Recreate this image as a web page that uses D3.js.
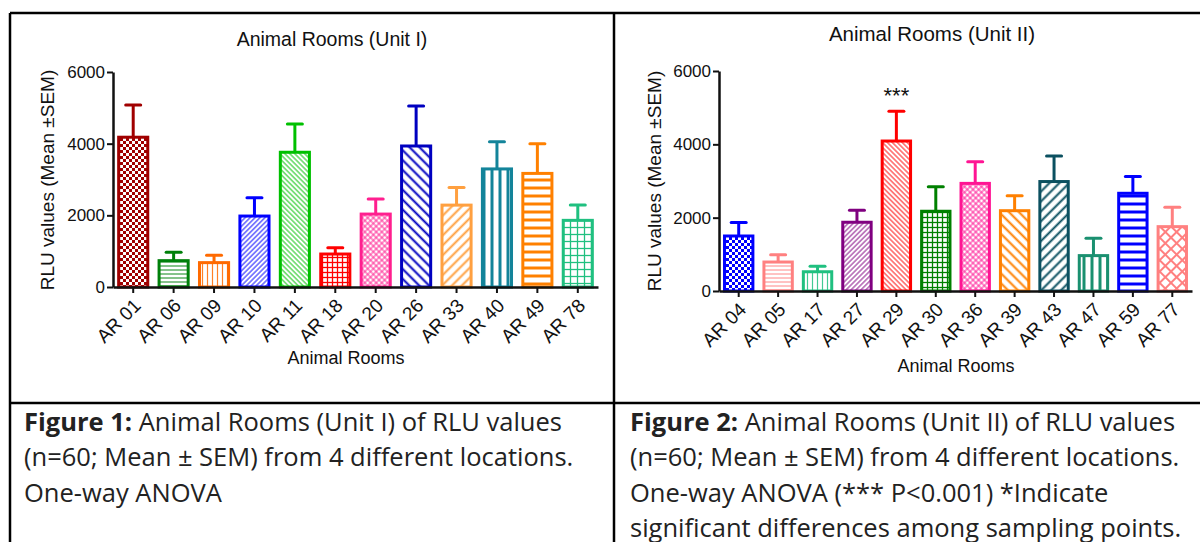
<!DOCTYPE html>
<html>
<head>
    <script src="https://cdnjs.cloudflare.com/ajax/libs/d3/7.8.5/d3.min.js"></script>
    <style>
        body { margin: 0; background: #fff; }
        svg { display: block; }
        .axis-text { font-family: "Liberation Sans", Arial, sans-serif; fill: #111; }
        .caption { font-family: "Open Sans", sans-serif; fill: #222; font-size: 25.5px; }
    </style>
</head>
<body>
<svg id="chart" width="1200" height="542"></svg>
<script>
    // Unit I
    const leftRooms = ["AR 01", "AR 06", "AR 09", "AR 10", "AR 11", "AR 18", "AR 20", "AR 26", "AR 33", "AR 40", "AR 49", "AR 78"];
    const leftMeans = [4180, 735, 680, 1980, 3760, 920, 2035, 3935, 2285, 3295, 3170, 1860];
    const leftSems  = [900, 235, 205, 510, 790, 175, 420, 1115, 495, 760, 830, 430];
    const leftColors = ["#a00000", "#00800a", "#ff6a00", "#0000ff", "#00c000", "#ff0000", "#ff1f8f", "#0000c0", "#ffa040", "#13849a", "#ff8000", "#20c080"];
    const leftFills = ["checker", "hfine", "vfine", "dfine", "bfine", "grid", "xfine", "bwide", "dwide", "vwide", "hwide", "gridwide"];

    // Unit II
    const rightRooms = ["AR 04", "AR 05", "AR 17", "AR 27", "AR 29", "AR 30", "AR 36", "AR 39", "AR 43", "AR 47", "AR 59", "AR 77"];
    const rightMeans = [1500, 790, 525, 1875, 4090, 2175, 2935, 2190, 2985, 965, 2665, 1755];
    const rightSems  = [365, 200, 150, 330, 810, 670, 590, 410, 700, 475, 455, 530];
    const rightColors = ["#0000ff", "#ff8080", "#20c080", "#800080", "#ff0000", "#008000", "#ff1493", "#ff8000", "#0b5060", "#1a9070", "#0000ff", "#ff8080"];
    const rightFills = ["checker", "hfine", "vfine", "dfine", "bfine", "grid", "xfine", "bwide", "dwide", "vwide", "hwide", "diamond"];

    const yTicks = [0, 2000, 4000, 6000];

    const svg = d3.select("#chart");
    const defs = svg.append("defs");

    // build one pattern per bar
    function makePattern(id, type, color) {
        const p = defs.append("pattern").attr("id", id).attr("patternUnits", "userSpaceOnUse");
        const line = (x1, y1, x2, y2, w, op) => p.append("line")
            .attr("x1", x1).attr("y1", y1).attr("x2", x2).attr("y2", y2)
            .attr("stroke", color).attr("stroke-width", w).attr("opacity", op || 1);
        if (type === "checker") {
            p.attr("width", 6).attr("height", 6);
            p.append("rect").attr("width", 3).attr("height", 3).attr("fill", color);
            p.append("rect").attr("x", 3).attr("y", 3).attr("width", 3).attr("height", 3).attr("fill", color);
        } else if (type === "hfine") {
            p.attr("width", 4).attr("height", 4);
            line(0, 2, 4, 2, 1.2, 0.8);
        } else if (type === "vfine") {
            p.attr("width", 5).attr("height", 5);
            line(2.5, 0, 2.5, 5, 1.2, 0.85);
        } else if (type === "dfine" || type === "bfine") {
            p.attr("width", 3.5).attr("height", 3.5)
                .attr("patternTransform", `rotate(${type === "dfine" ? 45 : -45})`);
            line(1.75, 0, 1.75, 3.5, 1.1, 0.85);
        } else if (type === "xfine") {
            p.attr("width", 4).attr("height", 4).attr("patternTransform", "rotate(45)");
            line(2, 0, 2, 4, 1.1, 0.85);
            line(0, 2, 4, 2, 1.1, 0.85);
        } else if (type === "grid" || type === "gridwide") {
            const s = type === "grid" ? 5 : 7;
            p.attr("width", s).attr("height", s);
            line(0, s / 2, s, s / 2, 1.3);
            line(s / 2, 0, s / 2, s, 1.3);
        } else if (type === "bwide" || type === "dwide") {
            p.attr("width", 7).attr("height", 7)
                .attr("patternTransform", `rotate(${type === "dwide" ? 45 : -45})`);
            line(3.5, 0, 3.5, 7, 2);
        } else if (type === "vwide") {
            p.attr("width", 8).attr("height", 8);
            line(4, 0, 4, 8, 3);
        } else if (type === "hwide") {
            p.attr("width", 8).attr("height", 8);
            line(0, 4, 8, 4, 3);
        } else if (type === "diamond") {
            p.attr("width", 8).attr("height", 8).attr("patternTransform", "rotate(45)");
            line(4, 0, 4, 8, 2);
            line(0, 4, 8, 4, 2);
        }
        return `url(#${id})`;
    }

    function drawPanel(cfg) {
        const g = svg.append("g");
        const x = d3.scaleBand().domain(cfg.rooms).range([cfg.x0, cfg.x1]).paddingInner(0.28).paddingOuter(0.14);
        const y = d3.scaleLinear().domain([0, 6000]).range([cfg.yBase, cfg.yTop]);
        const rows = cfg.rooms.map((r, i) => ({ room: r, mean: cfg.means[i], sem: cfg.sems[i], color: cfg.colors[i], fill: cfg.fills[i], i }));
        const cx = d => x(d.room) + x.bandwidth() / 2;

        // error bars (drawn first so bar outline sits on top)
        const eb = g.selectAll(".eb").data(rows).join("g");
        eb.append("line")
            .attr("x1", cx).attr("x2", cx)
            .attr("y1", d => y(d.mean)).attr("y2", d => y(d.mean + d.sem))
            .attr("stroke", d => d.color).attr("stroke-width", 3);
        eb.append("line")
            .attr("x1", d => cx(d) - 7.5).attr("x2", d => cx(d) + 7.5)
            .attr("y1", d => y(d.mean + d.sem)).attr("y2", d => y(d.mean + d.sem))
            .attr("stroke", d => d.color).attr("stroke-width", 3).attr("stroke-linecap", "round");

        // bars
        g.selectAll(".bar").data(rows).join("rect")
            .attr("x", d => x(d.room)).attr("width", x.bandwidth())
            .attr("y", d => y(d.mean)).attr("height", d => y(0) - y(d.mean))
            .attr("fill", d => makePattern(`${cfg.id}-p${d.i}`, d.fill, d.color))
            .attr("stroke", d => d.color).attr("stroke-width", 3);

        // y axis
        const ya = g.append("g").attr("transform", `translate(${cfg.x0},0)`)
            .call(d3.axisLeft(y).tickValues(yTicks).tickFormat(d3.format("d")).tickSize(6).tickPadding(2).tickSizeOuter(0));
        ya.select(".domain").attr("stroke", "#111").attr("stroke-width", 2.5);
        ya.selectAll(".tick line").attr("stroke", "#111").attr("stroke-width", 2);
        ya.selectAll(".tick text").attr("class", "axis-text").style("font-size", "17px");

        // x axis
        const xa = g.append("g").attr("transform", `translate(0,${cfg.yBase})`)
            .call(d3.axisBottom(x).tickSize(6).tickSizeOuter(0).tickFormat(""));
        xa.select(".domain").attr("stroke", "#111").attr("stroke-width", 2.5);
        xa.selectAll(".tick line").attr("stroke", "#111").attr("stroke-width", 2);
        xa.selectAll(".tick").append("text")
            .attr("class", "axis-text")
            .attr("text-anchor", "end")
            .attr("transform", "translate(4,15) rotate(-45)")
            .attr("dy", "0.35em")
            .style("font-size", "19px")
            .text(d => d);

        // titles
        g.append("text").attr("class", "axis-text").attr("x", cfg.titleX).attr("y", cfg.titleY)
            .attr("text-anchor", "middle").style("font-size", cfg.titleSize).text(cfg.title);
        g.append("text").attr("class", "axis-text").attr("x", cfg.xLabelX).attr("y", cfg.xLabelY)
            .attr("text-anchor", "middle").style("font-size", "18px").text("Animal Rooms");
        g.append("text").attr("class", "axis-text")
            .attr("transform", `translate(${cfg.yLabelX},${cfg.yLabelY}) rotate(-90)`)
            .attr("text-anchor", "middle").style("font-size", "19px").text("RLU values (Mean ±SEM)");

        if (cfg.sig) {
            g.append("text").attr("class", "axis-text")
                .attr("x", x(cfg.sig.room) + x.bandwidth() / 2).attr("y", cfg.sig.y)
                .attr("text-anchor", "middle").style("font-size", "22px").text(cfg.sig.text);
        }
    }

    drawPanel({
        id: "u1", rooms: leftRooms, means: leftMeans, sems: leftSems, colors: leftColors, fills: leftFills,
        x0: 113, x1: 598, yBase: 287, yTop: 72,
        title: "Animal Rooms (Unit I)", titleSize: "19.5px", titleX: 332, titleY: 46, xLabelX: 346, xLabelY: 364,
        yLabelX: 54, yLabelY: 180
    });
    drawPanel({
        id: "u2", rooms: rightRooms, means: rightMeans, sems: rightSems, colors: rightColors, fills: rightFills,
        x0: 719, x1: 1192, yBase: 291, yTop: 71,
        title: "Animal Rooms (Unit II)", titleSize: "20.5px", titleX: 932, titleY: 41, xLabelX: 956, xLabelY: 372,
        yLabelX: 661, yLabelY: 181,
        sig: { room: "AR 29", y: 103, text: "***" }
    });

    // table frame
    const frame = svg.append("g").attr("stroke", "#000").attr("stroke-width", 2.5);
    frame.append("line").attr("x1", 10).attr("x2", 1200).attr("y1", 13).attr("y2", 13);
    frame.append("line").attr("x1", 10).attr("x2", 1200).attr("y1", 403).attr("y2", 403);
    frame.append("line").attr("x1", 10).attr("x2", 10).attr("y1", 13).attr("y2", 542);
    frame.append("line").attr("x1", 614).attr("x2", 614).attr("y1", 13).attr("y2", 542);

    // captions
    const captions = [
        { x: 24, bold: "Figure 1:", lines: [" Animal Rooms (Unit I) of RLU values", "(n=60; Mean ± SEM) from 4 different locations.", "One-way ANOVA"] },
        { x: 630, bold: "Figure 2:", lines: [" Animal Rooms (Unit II) of RLU values", "(n=60; Mean ± SEM) from 4 different locations.", "One-way ANOVA (*** P<0.001) *Indicate", "significant differences among sampling points."] }
    ];
    captions.forEach(c => {
        c.lines.forEach((ln, i) => {
            const t = svg.append("text").attr("class", "caption").attr("x", c.x).attr("y", 431 + i * 35.3);
            if (i === 0) t.append("tspan").style("font-weight", "bold").text(c.bold);
            t.append("tspan").text(ln);
        });
    });
</script>
</body>
</html>
